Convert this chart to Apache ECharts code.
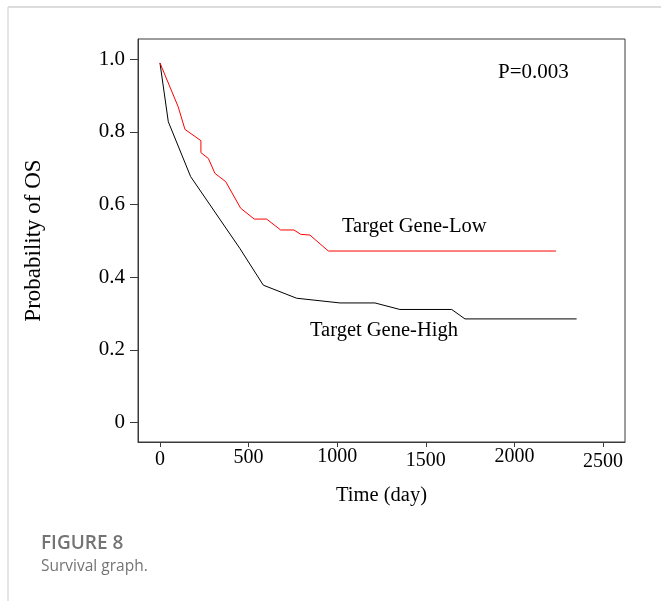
<!DOCTYPE html>
<html>
<head>
<meta charset="utf-8">
<script src="https://cdn.jsdelivr.net/npm/echarts@6/dist/echarts.min.js"></script>
<style>
html,body{margin:0;padding:0;background:#fff;}
#chart{position:absolute;left:0;top:0;width:661px;height:601px;}
</style>
</head>
<body>
<div id="chart"></div>
<script>
// Data (Kaplan-Meier style survival curves)
const timeHigh = [0, 47, 173, 451, 583, 771, 1016, 1213, 1354, 1646, 1721, 2351];
const survHigh = [0.99, 0.828, 0.677, 0.479, 0.378, 0.342, 0.329, 0.329, 0.311, 0.311, 0.285, 0.285];
const timeLow = [0, 103, 141, 231, 231, 273, 310, 371, 455, 532, 602, 681, 756, 794, 846, 950, 2235];
const survLow = [0.99, 0.869, 0.807, 0.776, 0.743, 0.727, 0.686, 0.663, 0.590, 0.560, 0.560, 0.530, 0.530, 0.518, 0.516, 0.472, 0.472];
const xTicks = [0, 500, 1000, 1500, 2000, 2500];
const yTicks = [0, 0.2, 0.4, 0.6, 0.8, 1.0];
const seriesNames = ['Target Gene-High', 'Target Gene-Low'];
const pText = 'P=0.003';
const xTitle = 'Time (day)';
const yTitle = 'Probability of OS';
const captionTitle = 'FIGURE 8';
const captionText = 'Survival graph.';

// label vertical jitter as in the reference
const xLabelShift = {0: 3, 500: 1, 1000: 0, 1500: 4, 2000: 0, 2500: 5};

const serif = '"Liberation Serif", "Times New Roman", serif';
const chart = echarts.init(document.getElementById('chart'), null, {renderer: 'canvas'});

const rich = {};
Object.keys(xLabelShift).forEach(k => {
  rich['s' + k] = {padding: [xLabelShift[k], 0, 0, 0], fontFamily: serif, fontSize: 20, color: '#000'};
});

chart.setOption({
  animation: false,
  backgroundColor: '#fff',
  grid: {left: 138, top: 39, width: 487, height: 403, show: true, borderColor: '#3a3a3a', borderWidth: 1, backgroundColor: 'transparent'},
  xAxis: {
    type: 'value', min: -124, max: 2624,
    name: xTitle, nameLocation: 'middle', nameGap: 43,
    nameTextStyle: {fontFamily: serif, fontSize: 20.5, color: '#000'},
    axisLine: {show: true, onZero: false, lineStyle: {color: '#3a3a3a', width: 1}},
    axisTick: {show: true, length: 5, customValues: xTicks, lineStyle: {color: '#3a3a3a'}},
    axisLabel: {
      customValues: xTicks, margin: 5, fontFamily: serif, fontSize: 20, color: '#000',
      formatter: v => '{s' + v + '|' + v + '}', rich: rich
    },
    splitLine: {show: false}
  },
  yAxis: {
    type: 'value', min: -0.054, max: 1.056,
    name: yTitle, nameLocation: 'middle', nameGap: 93, nameRotate: 90,
    nameTextStyle: {fontFamily: serif, fontSize: 23, color: '#000'},
    axisLine: {show: true, onZero: false, lineStyle: {color: '#3a3a3a', width: 1}},
    axisTick: {show: true, length: 8, customValues: yTicks, lineStyle: {color: '#3a3a3a'}},
    axisLabel: {
      customValues: yTicks, margin: 13, fontFamily: serif, fontSize: 21, color: '#000',
      formatter: v => (v === 0 ? '0' : v.toFixed(1))
    },
    splitLine: {show: false}
  },
  series: [
    {
      name: seriesNames[0], type: 'line', showSymbol: false, symbol: 'none',
      lineStyle: {color: '#000', width: 1},
      data: timeHigh.map((t, i) => [t, survHigh[i]])
    },
    {
      name: seriesNames[1], type: 'line', showSymbol: false, symbol: 'none',
      lineStyle: {color: '#ff0000', width: 1},
      data: timeLow.map((t, i) => [t, survLow[i]])
    }
  ],
  graphic: [
    {type: 'line', shape: {x1: 8, y1: 7, x2: 661, y2: 7}, style: {stroke: '#dcdcdc', lineWidth: 2}, silent: true},
    {type: 'line', shape: {x1: 8, y1: 7, x2: 8, y2: 601}, style: {stroke: '#dcdcdc', lineWidth: 1.5}, silent: true},
    {type: 'text', left: 498, top: 62, style: {text: pText, font: '21px ' + serif, fill: '#000'}},
    {type: 'text', left: 342, top: 216, style: {text: seriesNames[1], font: '20.5px ' + serif, fill: '#000'}},
    {type: 'text', left: 310, top: 320, style: {text: seriesNames[0], font: '20.5px ' + serif, fill: '#000'}},
    {type: 'text', left: 41, top: 534, style: {text: captionTitle, font: '600 19px "Open Sans", sans-serif', fill: '#747474'}},
    {type: 'text', left: 41, top: 559, style: {text: captionText, font: '15.5px "Open Sans", sans-serif', fill: '#747474'}}
  ]
});
</script>
</body>
</html>
